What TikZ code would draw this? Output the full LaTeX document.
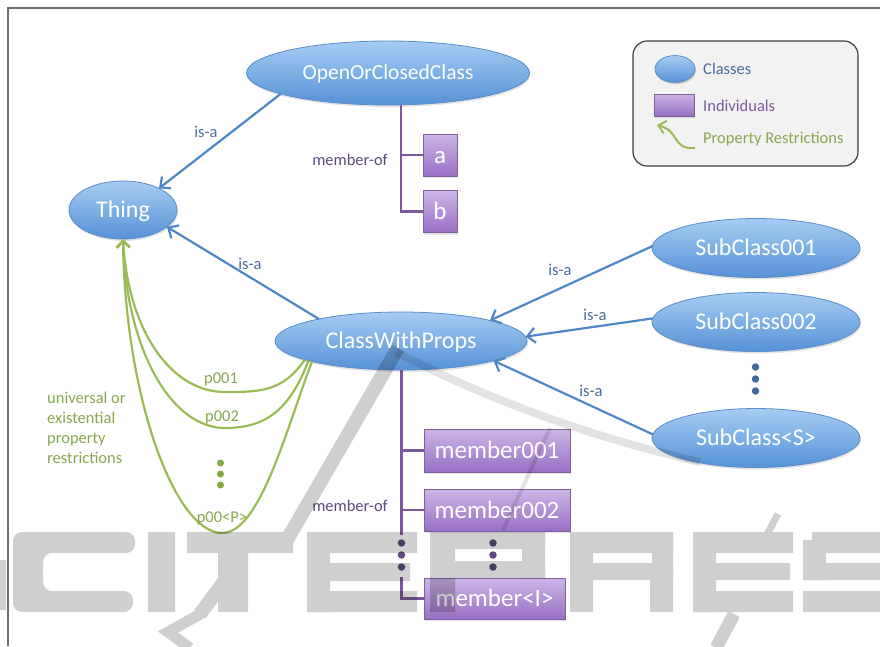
\documentclass[tikz,border=0pt]{standalone}
\usepackage{fontspec}
\setmainfont{Carlito}
\usetikzlibrary{arrows.meta,shapes.geometric,shadows}

\definecolor{clsTop}{HTML}{A6CCF3}
\definecolor{clsBot}{HTML}{5592D6}
\definecolor{clsEdge}{HTML}{5A8CC8}
\definecolor{indTop}{HTML}{CDB5E6}
\definecolor{indBot}{HTML}{9870C4}
\definecolor{indEdge}{HTML}{80609F}
\definecolor{isaLine}{HTML}{4F86C6}
\definecolor{memLine}{HTML}{7A5A9C}
\definecolor{propLine}{HTML}{9BBB59}
\definecolor{isaText}{HTML}{4C6A9A}
\definecolor{memText}{HTML}{5E4A7C}
\definecolor{propText}{HTML}{87A84C}
\definecolor{dotBlue}{HTML}{44679A}
\definecolor{dotPurple}{HTML}{5E4A7C}
\definecolor{dotGreen}{HTML}{86A844}
\definecolor{legFill}{HTML}{F2F2F2}
\definecolor{legEdge}{HTML}{3F3F3F}
\definecolor{frameGray}{HTML}{6E6E6E}

\tikzset{
  cls/.style={ellipse, draw=clsEdge, line width=0.8pt, top color=clsTop,
    bottom color=clsBot, text=white, inner sep=0pt, outer sep=0pt,
    minimum width=208pt, minimum height=59pt, text height=17pt, text depth=2pt,
    font=\fontsize{24}{28}\selectfont,
    drop shadow={opacity=0.22, shadow xshift=1pt, shadow yshift=-2pt}},
  indbox/.style={rectangle, draw=indEdge, line width=0.8pt, top color=indTop,
    bottom color=indBot, text=white, inner sep=0pt, outer sep=0pt,
    text height=18pt, text depth=2pt,
    font=\fontsize{25}{28}\selectfont,
    drop shadow={opacity=0.22, shadow xshift=1pt, shadow yshift=-2pt}},
  isa/.style={draw=isaLine, line width=2.2pt, -{Straight Barb[length=8pt,width=15pt]}},
  member/.style={draw=memLine, line width=2.2pt},
  prop/.style={draw=propLine, line width=2.2pt, -{Straight Barb[length=7pt,width=13pt]}},
  lbl/.style={font=\fontsize{16.5}{20}\selectfont, inner sep=0pt},
  isalbl/.style={lbl, text=isaText},
  memlbl/.style={lbl, text=memText},
  proplbl/.style={lbl, text=propText},
  vdot/.style={circle, inner sep=0pt, minimum size=7.5pt}
}

\begin{document}
\begin{tikzpicture}[x=1pt,y=-1pt]
\useasboundingbox (0,0) rectangle (880,646);
\fill[white] (0,0) rectangle (880,646);

% frame
\draw[frameGray, line width=1.8pt] (8,646) -- (8,8) -- (880,8);

% class nodes
\node[cls, minimum width=283pt, minimum height=64pt, font=\fontsize{21.5}{26}\selectfont,
  text height=15.5pt] (occ) at (388,73) {OpenOrClosedClass};
\node[cls, minimum width=108pt, minimum height=58pt] (thing) at (123,210) {Thing};
\node[cls, minimum width=252pt, minimum height=58pt] (cwp) at (401,341) {ClassWithProps};
\node[cls] (sub1) at (756,248) {SubClass001};
\node[cls] (sub2) at (756,322) {SubClass002};
\node[cls] (subs) at (756,438) {SubClass<S>};

% individuals
\node[indbox, minimum width=34pt, minimum height=42pt] (a) at (440,155) {a};
\node[indbox, minimum width=34pt, minimum height=42pt] (b) at (440,211.5) {b};
\node[indbox, minimum width=146pt, minimum height=43pt] (m1) at (497,450.5) {member001};
\node[indbox, minimum width=146pt, minimum height=42pt] (m2) at (497,510) {member002};
\node[indbox, minimum width=141pt, minimum height=41pt] (m3) at (494.5,598.5) {member<I>};

% member-of trees
\draw[member] (occ.-68) |- (b.west);
\draw[member] (a.west) -- (a.west -| occ.-68);
\coordinate (cwpEnd) at (401.5,535);
\coordinate (mTail) at (401.5,577);
\draw[member] (cwp.south -| cwpEnd) -- (cwpEnd);
\draw[member] (m1.west) -- (m1.west -| cwpEnd);
\draw[member] (m2.west) -- (m2.west -| cwpEnd);
\draw[member] (mTail) |- (m3.west);
\foreach \yy in {543,555,567} {
  \node[vdot, fill=dotPurple] at (401.5,\yy) {};
  \node[vdot, fill=dotPurple] at (493,\yy) {};
}
\node[memlbl] at (350,160) {member-of};
\node[memlbl] at (350,506) {member-of};

% is-a arrows
\draw[isa] (occ.191) -- (thing.31);
\draw[isa] (cwp.165) -- (thing.-21);
\draw[isa] (sub1.179) -- (cwp.13);
\draw[isa] (sub2.178) -- (cwp.2);
\draw[isa] (subs.178) -- (cwp.-12);
\node[isalbl] at (206,132) {is-a};
\node[isalbl] at (250,264) {is-a};
\node[isalbl] at (560,270) {is-a};
\node[isalbl] at (595,315) {is-a};
\node[isalbl] at (591,391) {is-a};
\foreach \yy in {367,379,391} \node[vdot, fill=dotBlue] at (755.5,\yy) {};

% property restrictions
\coordinate (d1) at (225,392);
\coordinate (d2) at (225,428);
\coordinate (d3) at (222,533);
\draw[prop] (cwp.191) .. controls +(-22,32) and +(35,0) .. (d1)
  .. controls +(-55,0) and +(5,90) .. (thing.south);
\draw[prop] (cwp.192) .. controls +(-19,50) and +(40,0) .. (d2)
  .. controls +(-55,0) and +(3,108) .. (thing.south);
\draw[prop] (cwp.193) .. controls +(-26,68) and +(38,0) .. (d3)
  .. controls +(-47,0) and +(2,158) .. (thing.south);
\node[proplbl] at (221,379) {p001};
\node[proplbl] at (222,417) {p002};
\node[proplbl] at (222,518) {p00<P>};
\foreach \yy in {463,474,485} \node[vdot, fill=dotGreen, minimum size=7pt] at (220.5,\yy) {};
\node[proplbl, anchor=west, align=left] at (47,428)
  {universal or\\existential\\property\\restrictions};

% legend
\node[draw=legEdge, fill=legFill, line width=1.2pt, rounded corners=14pt,
  minimum width=225pt, minimum height=125pt, inner sep=0pt] (legend) at (745.5,103.5) {};
\node[cls, minimum width=40pt, minimum height=20pt, drop shadow={opacity=0.2, shadow xshift=0.5pt, shadow yshift=-1pt}] (lcls) at (675,69) {};
\node[isalbl, anchor=west] at (703,69) {Classes};
\node[indbox, minimum width=40pt, minimum height=22pt, drop shadow={opacity=0.2, shadow xshift=0.5pt, shadow yshift=-1pt}] (lind) at (674,105) {};
\node[memlbl, anchor=west, text=memLine] at (703,106) {Individuals};
\coordinate (lpA) at (695,148);
\coordinate (lpB) at (657,125);
\draw[prop, line width=2pt] (lpA) .. controls (672,150) and (680,131) .. (lpB);
\node[proplbl, anchor=west] at (703,139) {Property Restrictions};

% publisher watermark: lettering
\begin{scope}[transparency group, opacity=0.19]
  \fill (0,560) rectangle (6,610);
  \fill[rounded corners=9pt] (135,532) -- (13,532) -- (13,612) -- (133,612)
    -- (133,591) -- (43,591) -- (43,553) -- (135,553) -- cycle;
  \fill (148,532) rectangle (175,612);
  \fill (187,532) rectangle (293,553);
  \fill (218,553) rectangle (248,612);
  \fill (307,532) rectangle (417,553);
  \fill (307,532) rectangle (330,612);
  \fill (330,563) rectangle (410,581);
  \fill (307,591) rectangle (417,612);
  \fill (430,532) rectangle (545,549);
  \fill (430,532) rectangle (455,612);
  \fill (522,532) rectangle (545,578);
  \fill (430,561) rectangle (545,578);
  \fill (570,532) rectangle (673,553);
  \fill (570,532) rectangle (593,612);
  \fill (652,532) rectangle (673,580);
  \fill (570,563) rectangle (673,580);
  \fill (650,580) rectangle (673,612);
  \fill (693,532) rectangle (793,553);
  \fill (693,532) rectangle (716,612);
  \fill (716,563) rectangle (790,580);
  \fill (693,591) rectangle (793,612);
  \fill (812,532) rectangle (880,553);
  \fill (803,540) rectangle (826,580);
  \fill (803,563) rectangle (880,580);
  \fill (803,591) rectangle (880,612);
  \draw[line width=14pt] (240,560) -- (200,614);
  \draw[line width=11pt] (204,612) -- (168,632) -- (190,648);
  \draw[line width=7pt] (778,514) -- (764,540);
  \draw[line width=13pt] (734,614) -- (716,648);
  \draw[line width=14pt] (284,545) -- (398,348);
\end{scope}
% publisher watermark: faint swoosh
\begin{scope}[transparency group, opacity=0.11]
  \draw[line width=8pt] (396,352) .. controls (460,385) and (560,430) .. (700,462);
  \draw[line width=4pt] (550,428) -- (503,530);
\end{scope}
\end{tikzpicture}
\end{document}
